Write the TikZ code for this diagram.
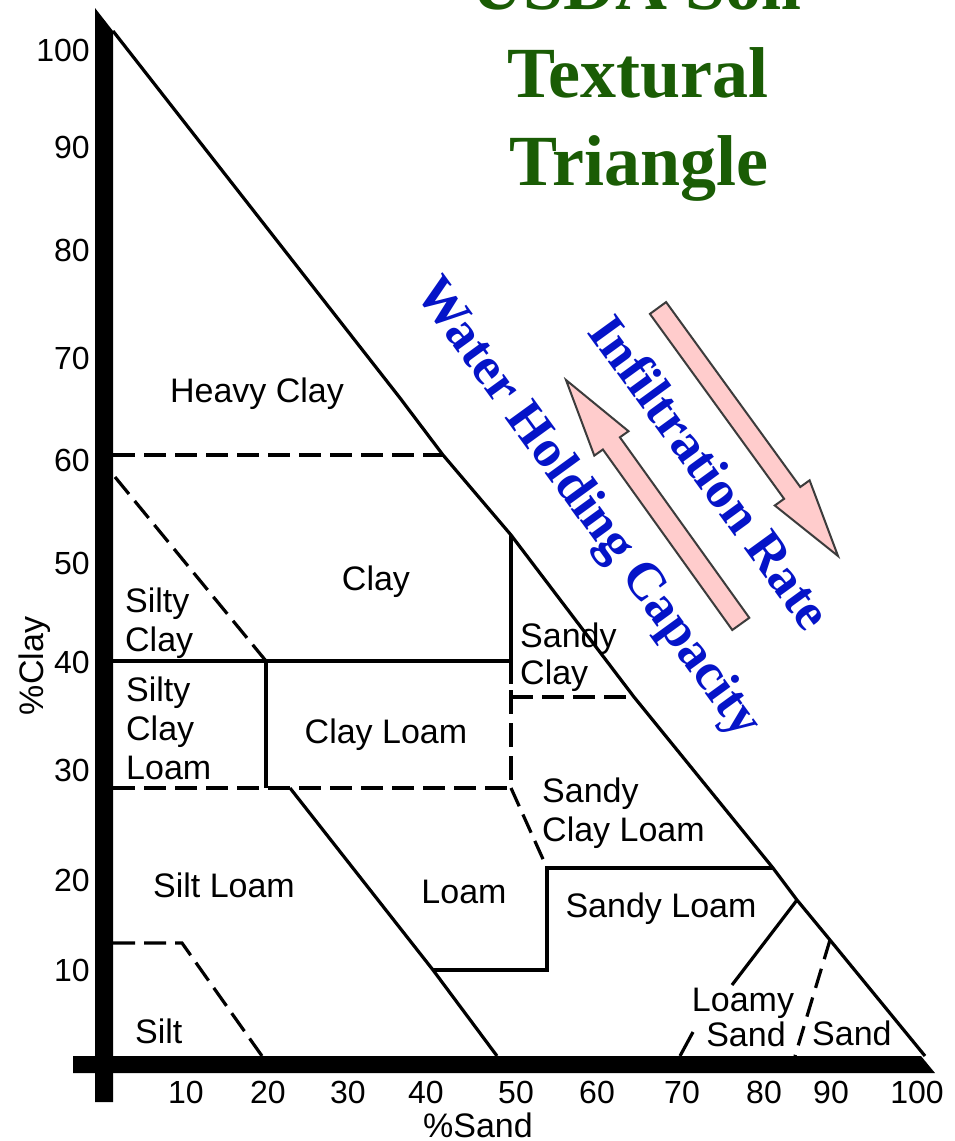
\documentclass[tikz,border=0pt]{standalone}
\usepackage{fontspec}
\setmainfont{Liberation Serif}
\newfontfamily\arialf{Liberation Sans}
\definecolor{titlegreen}{RGB}{26,92,5}
\definecolor{txtblue}{RGB}{5,20,200}
\definecolor{arrowpink}{RGB}{255,204,204}
\definecolor{arrowedge}{RGB}{60,60,60}
\begin{document}
\begin{tikzpicture}[x=1pt,y=-1pt,
  ln/.style={line width=3.2pt},
  dln/.style={line width=3.2pt, dash pattern=on 22pt off 9pt},
  lab/.style={font=\arialf\fontsize{34}{39}\selectfont, inner sep=0pt},
  num/.style={font=\arialf\fontsize{32}{36}\selectfont, inner sep=0pt},
  ttl/.style={font=\bfseries\fontsize{72}{86}\selectfont, text=titlegreen, inner sep=0pt, anchor=base},
  rtx/.style={font=\bfseries\fontsize{53}{60}\selectfont, text=txtblue, rotate=-54, inner sep=0pt},
  arr/.style={fill=arrowpink, draw=arrowedge, line width=2pt, line join=miter}
]
\useasboundingbox (0,0) rectangle (955,1141);
\fill[white] (0,0) rectangle (955,1141);
\clip (0,0) rectangle (955,1141);

% key coordinates
\coordinate (top) at (113,31);
\coordinate (hA) at (400,398);
\coordinate (h60) at (443,455);
\coordinate (hcl) at (511,535);
\coordinate (hsc) at (634,697);
\coordinate (hsl) at (773,868);
\coordinate (hls) at (797,900);
\coordinate (hs) at (830,940);
\coordinate (br) at (925,1056);

% axes bars
\fill (95,8) -- (113,31) -- (113,1102) -- (95,1102) -- cycle;
\fill (73,1056) -- (921,1056) -- (935,1073) -- (73,1073) -- cycle;

% hypotenuse
\draw[ln, line join=round] (top) -- (hA) -- (h60) -- (hcl) -- (hsc) -- (hsl) -- (hls) -- (hs) -- (br);

% internal boundaries
\draw[dln] (113,455) -- (h60);
\draw[dln] (115,477) -- (266,661);
\draw[ln] (113,661) -- (511,661);
\draw[ln] (266,661) -- (266,788);
\draw[ln] (hcl) -- (511,684);
\draw[line width=3.2pt, dash pattern=on 24pt off 9pt] (511,690) -- (511,788);
\draw[dln] (511,697) -- (hsc);
\draw[dln] (113,788) -- (511,788);
\draw[ln] (290,788) -- (433,970) -- (497,1056);
\draw[ln] (433,970) -- (547,970) -- (547,868) -- (hsl);
\draw[line width=3.2pt, dash pattern=on 20pt off 9pt] (511,788) -- (547,868);
\draw[ln] (hls) -- (732,985);
\draw[ln] (693,1032) -- (680,1056);
\draw[line width=3.2pt, dash pattern=on 20pt off 10pt] (hs) -- (795,1056);
\draw[dln] (113,943) -- (182,943) -- (262,1056);

% region labels
\node[lab, anchor=base] (heavy) at (257,402) {Heavy Clay};
\node[lab, anchor=base] (clay) at (376,590) {Clay};
\node[lab, anchor=north west, align=left] (siltyclay) at (125,588) {Silty\\Clay};
\node[lab, anchor=north west, align=left] (scl) at (126,677) {Silty\\Clay\\Loam};
\node[lab, anchor=base] (clayloam) at (386,743) {Clay Loam};
\node[lab, anchor=north west, align=left, font=\arialf\fontsize{34}{37}\selectfont] (sandyclay) at (520,623) {Sandy\\Clay};
\node[lab, anchor=north west, align=left] (sandyclayloam) at (542,778) {Sandy\\Clay Loam};
\node[lab, anchor=base] (siltloam) at (224,897) {Silt Loam};
\node[lab, anchor=base] (loam) at (464,903) {Loam};
\node[lab, anchor=base] (sandyloam) at (661,917) {Sandy Loam};
\node[lab, anchor=base west] (silt) at (135,1043) {Silt};
\node[lab, anchor=north, align=center, font=\arialf\fontsize{34}{35}\selectfont] (loamysand) at (743,988) {Loamy\\\hspace*{6pt}Sand};
\node[lab, anchor=base west] (sand) at (812,1045) {Sand};

% clay axis numbers
\node[num, anchor=east] (c100) at (90,50) {100};
\node[num, anchor=east] (c90) at (90,147) {90};
\node[num, anchor=east] (c80) at (90,250) {80};
\node[num, anchor=east] (c70) at (90,358) {70};
\node[num, anchor=east] (c60) at (90,460) {60};
\node[num, anchor=east] (c50) at (90,563) {50};
\node[num, anchor=east] (c40) at (90,662) {40};
\node[num, anchor=east] (c30) at (90,770) {30};
\node[num, anchor=east] (c20) at (90,880) {20};
\node[num, anchor=east] (c10) at (90,970) {10};

% sand axis numbers
\node[num] (s10) at (186,1092) {10};
\node[num] (s20) at (268,1092) {20};
\node[num] (s30) at (348,1092) {30};
\node[num] (s40) at (426,1092) {40};
\node[num] (s50) at (516,1092) {50};
\node[num] (s60) at (597,1092) {60};
\node[num] (s70) at (682,1092) {70};
\node[num] (s80) at (764,1092) {80};
\node[num] (s90) at (831,1092) {90};
\node[num] (s100) at (917,1092) {100};

% axis titles
\node[lab, rotate=90] (pclay) at (35,666) {\%Clay};
\node[lab, anchor=base] (psand) at (478,1137) {\%Sand};

% title
\node[ttl] (usda) at (637,9) {USDA Soil};
\node[ttl] (textural) at (638,97) {Textural};
\node[ttl] (triangle) at (639,185) {Triangle};

% arrows
\draw[arr] (666.1,302.1) -- (800.3,487.0) -- (809.6,480.3) -- (838,556) -- (774.8,505.5) -- (784.1,498.8) -- (649.9,313.9) -- cycle;
\draw[arr] (566,380) -- (628.5,431.2) -- (619.9,437.3) -- (749.3,617.8) -- (732.3,630.0) -- (602.9,449.5) -- (594.3,455.6) -- cycle;

% rotated texts
\node[rtx] (whc) at (587,509) {Water Holding Capacity};
\node[rtx] (infil) at (711,472) {Infiltration Rate};
\end{tikzpicture}
\end{document}
